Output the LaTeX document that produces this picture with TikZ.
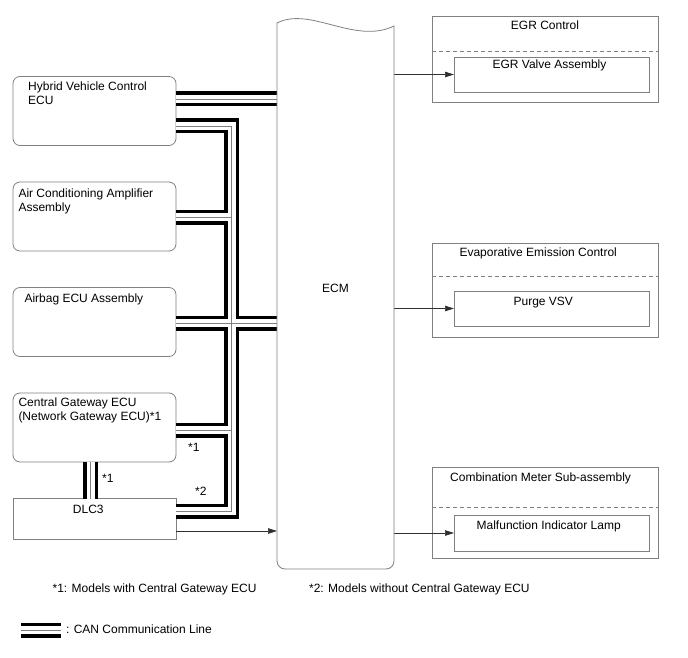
\documentclass[tikz,border=0pt]{standalone}
\usepackage{fontspec}
\setmainfont{Liberation Sans}
\usetikzlibrary{arrows.meta,positioning}
\definecolor{edge}{HTML}{808080}
\definecolor{wire}{HTML}{303030}

\begin{document}
\begin{tikzpicture}[x=1pt,y=-1pt,node distance=36.5pt,font=\fontsize{12}{14}\selectfont,
  ecu/.style={draw=edge,line width=0.8pt,rounded corners=7pt,minimum width=163pt,minimum height=69pt,inner sep=0pt,outer sep=0pt},
  port/.style={draw=edge,line width=0.8pt,minimum width=163pt,minimum height=41pt,inner sep=0pt,outer sep=0pt},
  group/.style={draw=edge,line width=0.8pt,minimum width=226pt,inner sep=0pt,outer sep=0pt},
  part/.style={draw=edge,line width=0.8pt,minimum width=195pt,inner sep=0pt,outer sep=0pt},
  txt/.style={inner sep=0pt,align=left},
  sig/.style={draw=wire,line width=0.7pt,-{Triangle[length=9pt,width=5.5pt]}},
  split/.style={draw=edge,line width=0.8pt,dash pattern=on 4pt off 3pt}]
\useasboundingbox (0,0) rectangle (688,658);

% ECUs on the CAN side
\node[ecu] (hv) at (94.5,111) {};
\node[ecu,below=of hv] (ac) {};
\node[ecu,below=of ac] (ab) {};
\node[ecu,below=of ab] (gw) {};
\node[port,below=of gw] (dlc) {};
\node[txt,anchor=north west] (hvt) at ([shift={(15,4.8)}]hv.north west) {Hybrid Vehicle Control\\ECU};
\node[txt,anchor=north west] (act) at ([shift={(5.3,6.6)}]ac.north west) {Air Conditioning Amplifier\\Assembly};
\node[txt,anchor=north west] (abt) at ([shift={(11.3,6.1)}]ab.north west) {Airbag ECU Assembly};
\node[txt,anchor=north west] (gwt) at ([shift={(5.3,5)}]gw.north west) {Central Gateway ECU\\(Network Gateway ECU)*1};
\node[txt,anchor=base] (dlct) at ([shift={(-6.2,14.8)}]dlc.north) {DLC3};

% ECM
\node[minimum width=117pt,minimum height=546pt,inner sep=0pt,outer sep=0pt] (ecm) at (335.5,296) {};
\node[txt,anchor=base] (ecmt) at ([shift={(0,-3.3)}]ecm.center) {ECM};

% controlled parts
\node[group,minimum height=86pt] (egr) at (545,59) {};
\node[part,minimum height=35pt] (egrv) at (551.5,74.5) {};
\draw[split] (egr.west |- 0,51) -- (egr.east |- 0,51);
\node[txt,anchor=base] (egrt) at (545,30) {EGR Control};
\node[txt,anchor=base] (egrvt) at (549.5,69) {EGR Valve Assembly};

\node[group,minimum height=94pt] (evap) at (545,290) {};
\node[part,minimum height=35pt] (vsv) at (551.5,308.5) {};
\draw[split] (evap.west |- 0,276) -- (evap.east |- 0,276);
\node[txt,anchor=base west] (evapt) at (459.3,256) {Evaporative Emission Control};
\node[txt,anchor=base] (vsvt) at (543.3,305) {Purge VSV};

\node[group,minimum height=91pt] (meter) at (545,512.5) {};
\node[part,minimum height=36pt] (mil) at (551.5,533) {};
\draw[split] (meter.west |- 0,507) -- (meter.east |- 0,507);
\node[txt,anchor=base west] (metert) at (450,481.7) {Combination Meter Sub-assembly};
\node[txt,anchor=base] (milt) at (548.7,529) {Malfunction Indicator Lamp};

\draw[sig] (ecm.east |- egrv) -- (egrv.west);
\draw[sig] (ecm.east |- vsv) -- (vsv.west);
\draw[sig] (ecm.east |- mil) -- (mil.west);
\draw[sig] (dlc.east |- 0,531) -- (ecm.west |- 0,531);

% CAN lines (black, white, centre pass)
\coordinate (jtop) at (231.5,126);
\coordinate (jbot) at (231.5,511);
\coordinate (legL) at (21,630);
\coordinate (legR) at (61,630);
\foreach \lw/\lc in {15pt/black,8pt/white,0.7pt/edge}{
  \draw[line width=\lw,draw=\lc,line join=miter]
    (hv.east |- 0,99) -- (ecm.west |- 0,99)
    (hv.east |- jtop) -- (jtop) -- (jbot) -- (dlc.east |- jbot)
    (ac.east |- 0,217) -- (jtop |- 0,217)
    (ab.east |- 0,323) -- (ecm.west |- 0,323)
    (gw.east |- 0,430) -- (jtop |- 0,430)
    (gw.south -| 90.5,0) -- (dlc.north -| 90.5,0)
    (legL) -- (legR);
}
\node[txt,anchor=base west] (n1a) at (188,451) {*1};
\node[txt,anchor=base west] (n2) at (195,495) {*2};
\node[txt,anchor=base west] (n1b) at (102,482.7) {*1};

% ECM outline with torn top
\draw[draw=edge,line width=0.8pt] (ecm.north west) .. controls +(33,-17) and +(-39,19) .. ([yshift=-3pt]ecm.north east)
  -- ([yshift=8pt]ecm.south east) arc[start angle=0,end angle=-90,radius=8pt]
  -- ([xshift=8pt]ecm.south west) arc[start angle=270,end angle=180,radius=8pt] -- cycle;

% notes
\node[txt,anchor=base west] (note1) at (52.4,592) {*1: Models with Central Gateway ECU};
\node[txt,anchor=base west] (note2) at (308.9,592) {*2: Models without Central Gateway ECU};
\node[txt,anchor=base west] (cant) at (65.8,633) {: CAN Communication Line};
\end{tikzpicture}
\end{document}
